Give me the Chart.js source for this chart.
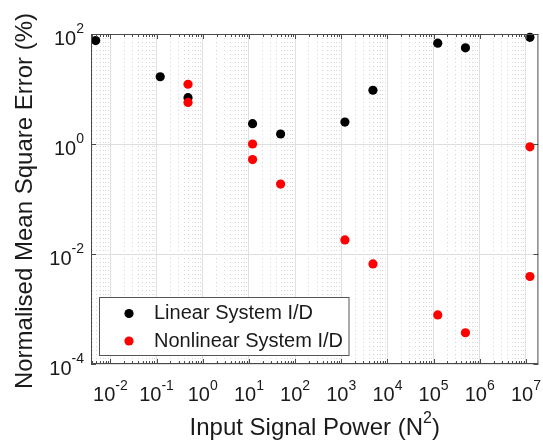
<!DOCTYPE html>
<html>
<head>
<meta charset="utf-8">
<script src="https://cdn.jsdelivr.net/npm/chart.js@4/dist/chart.umd.min.js"></script>
<style>
  html, body { margin: 0; padding: 0; background: #fff; }
  #wrap { width: 543px; height: 444px; }
</style>
</head>
<body>
<div id="wrap"><canvas id="mse" width="543" height="444"></canvas></div>
<script>
// Data
const xLinear = [0.0048, 0.12, 0.48, 12, 48.6, 1200, 4860, 123000, 490000, 1.22e7];
const yLinear = [76, 16.7, 6.95, 2.34, 1.52, 2.5, 9.5, 68, 56, 87];
const xNonlinear = [0.48, 0.48, 12, 12, 48.6, 1200, 4860, 123000, 490000, 1.22e7, 1.22e7];
const yNonlinear = [12.2, 5.7, 1.0, 0.52, 0.187, 0.018, 0.0066, 7.8e-4, 3.7e-4, 0.0039, 0.89];

// Tick labels (powers of ten)
const xDecades = [-2, -1, 0, 1, 2, 3, 4, 5, 6, 7];
const yDecades = [-4, -2, 0, 2];

const seriesNames = ['Linear System I/D', 'Nonlinear System I/D'];
const seriesColors = ['#000000', '#ff0000'];

const xTitle = 'Input Signal Power (N';
const yTitle = 'Normalised Mean Square Error (%)';

const FONT = '"Liberation Sans", Arial, Helvetica, sans-serif';
const BASE = '20px ' + FONT;
const SUP = '14px ' + FONT;
const TITLE = '24px ' + FONT;
const TITLE_SUP = '16px ' + FONT;

const X_MIN = Math.pow(10, -2.42);
const X_MAX = Math.pow(10, 7.27);

function toPoints(xs, ys) {
    return xs.map((v, i) => ({ x: v, y: ys[i] }));
}

// major + minor ticks for the x axis
function buildXTicks() {
    const out = [];
    for (let d = -3; d <= 7; d++) {
        for (let k = 1; k <= 9; k++) {
            const v = k * Math.pow(10, d);
            if (v < X_MIN || v > X_MAX) continue;
            out.push({ value: v, major: k === 1 && xDecades.includes(d) });
        }
    }
    return out;
}

// "10" with a raised exponent
function drawPow(ctx, exp, x, yBase, ySup, align) {
    ctx.font = BASE;
    const wb = ctx.measureText('10').width;
    ctx.font = SUP;
    const we = ctx.measureText(exp).width;
    const left = align === 'right' ? x - wb - we : x - (wb + we) / 2;
    ctx.textAlign = 'left';
    ctx.textBaseline = 'middle';
    ctx.font = BASE;
    ctx.fillText('10', left, yBase);
    ctx.font = SUP;
    ctx.fillText(exp, left + wb, ySup);
}

function line(ctx, x1, y1, x2, y2) {
    ctx.beginPath();
    ctx.moveTo(x1, y1);
    ctx.lineTo(x2, y2);
    ctx.stroke();
}

const decor = {
    id: 'decor',
    afterDraw(chart) {
        const { ctx, chartArea: a, scales: { x, y } } = chart;
        ctx.save();
        ctx.fillStyle = '#1a1a1a';

        // tick labels
        xDecades.forEach(d => {
            const px = x.getPixelForValue(Math.pow(10, d));
            drawPow(ctx, String(d), px, a.bottom + 31, a.bottom + 22, 'center');
        });
        yDecades.forEach(d => {
            const py = y.getPixelForValue(Math.pow(10, d));
            drawPow(ctx, String(d), 84, py + 5, py - 5, 'right');
        });

        // axis titles
        ctx.font = TITLE;
        const w1 = ctx.measureText(xTitle).width;
        ctx.font = TITLE_SUP;
        const w2 = ctx.measureText('2').width;
        ctx.font = TITLE;
        const w3 = ctx.measureText(')').width;
        let tx = (a.left + a.right) / 2 - (w1 + w2 + w3) / 2;
        ctx.textAlign = 'left';
        ctx.textBaseline = 'middle';
        ctx.fillText(xTitle, tx, 428);
        ctx.font = TITLE_SUP;
        ctx.fillText('2', tx + w1, 419);
        ctx.font = TITLE;
        ctx.fillText(')', tx + w1 + w2, 428);

        ctx.save();
        ctx.translate(25, (a.top + a.bottom) / 2 + 2);
        ctx.rotate(-Math.PI / 2);
        ctx.textAlign = 'center';
        ctx.fillText(yTitle, 0, 0);
        ctx.restore();

        // legend
        ctx.fillStyle = '#fff';
        ctx.fillRect(99.5, 297.5, 249.5, 58);
        ctx.strokeStyle = '#555';
        ctx.lineWidth = 1;
        ctx.strokeRect(99.5, 297.5, 249.5, 58);
        const rows = [313.5, 341];
        seriesNames.forEach((name, i) => {
            ctx.fillStyle = seriesColors[i];
            ctx.beginPath();
            ctx.arc(129, rows[i], 4.6, 0, Math.PI * 2);
            ctx.fill();
            ctx.fillStyle = '#1a1a1a';
            ctx.font = BASE;
            ctx.textAlign = 'left';
            ctx.textBaseline = 'middle';
            ctx.fillText(name, 154, rows[i]);
        });

        // inward ticks and box
        ctx.strokeStyle = '#4a4a4a';
        x.ticks.forEach(t => {
            const px = Math.round(x.getPixelForValue(t.value)) + 0.5;
            const len = t.major ? 5 : 3;
            line(ctx, px, a.bottom, px, a.bottom - len);
            line(ctx, px, a.top, px, a.top + len);
        });
        y.ticks.forEach(t => {
            const py = Math.round(y.getPixelForValue(t.value)) + 0.5;
            line(ctx, a.left, py, a.left + 5, py);
            line(ctx, a.right, py, a.right - 5, py);
        });
        ctx.strokeRect(a.left + 0.5, a.top + 0.5, a.right - a.left - 1, a.bottom - a.top - 1);
        ctx.restore();
    }
};

new Chart(document.getElementById('mse'), {
    type: 'scatter',
    data: {
        datasets: [
            {
                label: seriesNames[1],
                data: toPoints(xNonlinear, yNonlinear),
                backgroundColor: seriesColors[1],
                borderWidth: 0,
                pointRadius: 4.6,
                order: 0
            },
            {
                label: seriesNames[0],
                data: toPoints(xLinear, yLinear),
                backgroundColor: seriesColors[0],
                borderWidth: 0,
                pointRadius: 4.6,
                order: 1
            }
        ]
    },
    options: {
        responsive: false,
        animation: false,
        devicePixelRatio: 1,
        clip: false,
        layout: { padding: { top: 34, right: 4, left: 0, bottom: 0 } },
        plugins: { legend: { display: false }, tooltip: { enabled: false } },
        scales: {
            x: {
                type: 'logarithmic',
                position: 'bottom',
                min: X_MIN,
                max: X_MAX,
                afterBuildTicks: s => { s.ticks = buildXTicks(); },
                afterFit: s => { s.height = 80; },
                ticks: { display: false },
                grid: {
                    drawTicks: false,
                    color: c => (c.tick && c.tick.major) ? '#e0e0e0' : '#d6d6d6'
                },
                border: {
                    display: false,
                    dash: c => (c.tick && !c.tick.major) ? [1, 3] : []
                }
            },
            y: {
                type: 'logarithmic',
                min: 1e-4,
                max: 1e2,
                afterBuildTicks: s => { s.ticks = yDecades.map(d => ({ value: Math.pow(10, d), major: true })); },
                afterFit: s => { s.width = 91; },
                ticks: { display: false },
                grid: { drawTicks: false, color: '#dedede' },
                border: { display: false }
            }
        }
    },
    plugins: [decor]
});
</script>
</body>
</html>
